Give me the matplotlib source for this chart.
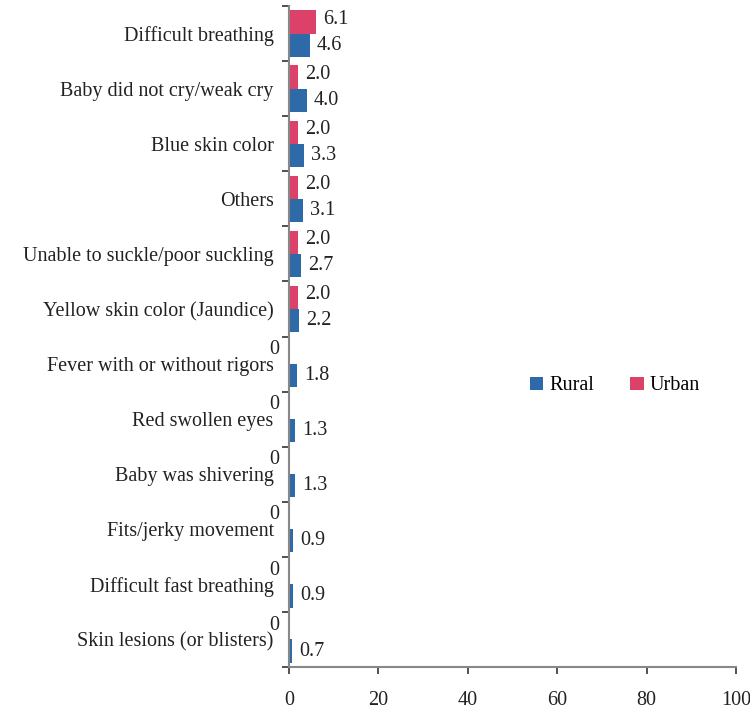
import matplotlib
matplotlib.use("Agg")
import matplotlib.pyplot as plt
import numpy as np
from matplotlib.ticker import FixedLocator

categories = ["Difficult breathing", "Baby did not cry/weak cry", "Blue skin color", "Others",
              "Unable to suckle/poor suckling", "Yellow skin color (Jaundice)",
              "Fever with or without rigors", "Red swollen eyes", "Baby was shivering",
              "Fits/jerky movement", "Difficult fast breathing", "Skin lesions (or blisters)"]
rural = [4.6, 4.0, 3.3, 3.1, 2.7, 2.2, 1.8, 1.3, 1.3, 0.9, 0.9, 0.7]
urban = [6.1, 2.0, 2.0, 2.0, 2.0, 2.0, 0, 0, 0, 0, 0, 0]
xticks = [0, 20, 40, 60, 80, 100]

plt.rcParams['font.family'] = ['Liberation Serif', 'DejaVu Serif']
BLUE = "#2E6AA7"
RED = "#DC4169"
TXT = "#222222"
FS = 14.5

fig = plt.figure(figsize=(7.5, 7.11), dpi=100)
ax = fig.add_axes([289/750, 1-667/711, (736-289)/750, (667-6)/711])

n = len(categories)
y = np.arange(n)
h = 0.42
ax.barh(y + h/2, rural, height=h, color=BLUE, label="Rural", zorder=2)
ax.barh(y - h/2, urban, height=h, color=RED, label="Urban", zorder=2)

for i in range(n):
    v = urban[i]
    if v == 0:
        ax.annotate("0", (0, y[i] - h/2), xytext=(-7, 2), textcoords="offset points",
                    ha="right", va="center", fontsize=FS, color=TXT)
    else:
        ax.annotate(f"{v:.1f}", (v, y[i] - h/2), xytext=(5, 2), textcoords="offset points",
                    ha="left", va="center", fontsize=FS, color=TXT)
    r = rural[i]
    ax.annotate(f"{r:.1f}", (r, y[i] + h/2), xytext=(5, 0), textcoords="offset points",
                ha="left", va="center", fontsize=FS, color=TXT)

ax.set_ylim(n - 0.5, -0.5)
ax.set_xlim(0, 100)
ax.set_yticks(y)
ax.set_yticklabels(categories, fontsize=FS, color=TXT)
ax.yaxis.set_minor_locator(FixedLocator(np.arange(-0.5, n, 1.0)))
ax.tick_params(axis='y', which='major', length=0, pad=11)
ax.tick_params(axis='y', which='minor', length=5, width=1.2, color="#333333", direction='out')
ax.set_xticks(xticks)
ax.set_xticklabels([str(t) for t in xticks], fontsize=FS, color=TXT)
ax.tick_params(axis='x', length=5, width=1.2, color="#333333", direction='out', pad=12)

for s in ['top', 'right']:
    ax.spines[s].set_visible(False)
for s in ['left', 'bottom']:
    ax.spines[s].set_color("#888888")
    ax.spines[s].set_linewidth(1.5)

fig.legend(loc='center', bbox_to_anchor=(615/750, 1-386/711), ncol=2, frameon=False,
           fontsize=FS, handlelength=0.65, handleheight=0.65, handletextpad=0.3,
           columnspacing=1.8)

fig.savefig("out.png", dpi=100)
